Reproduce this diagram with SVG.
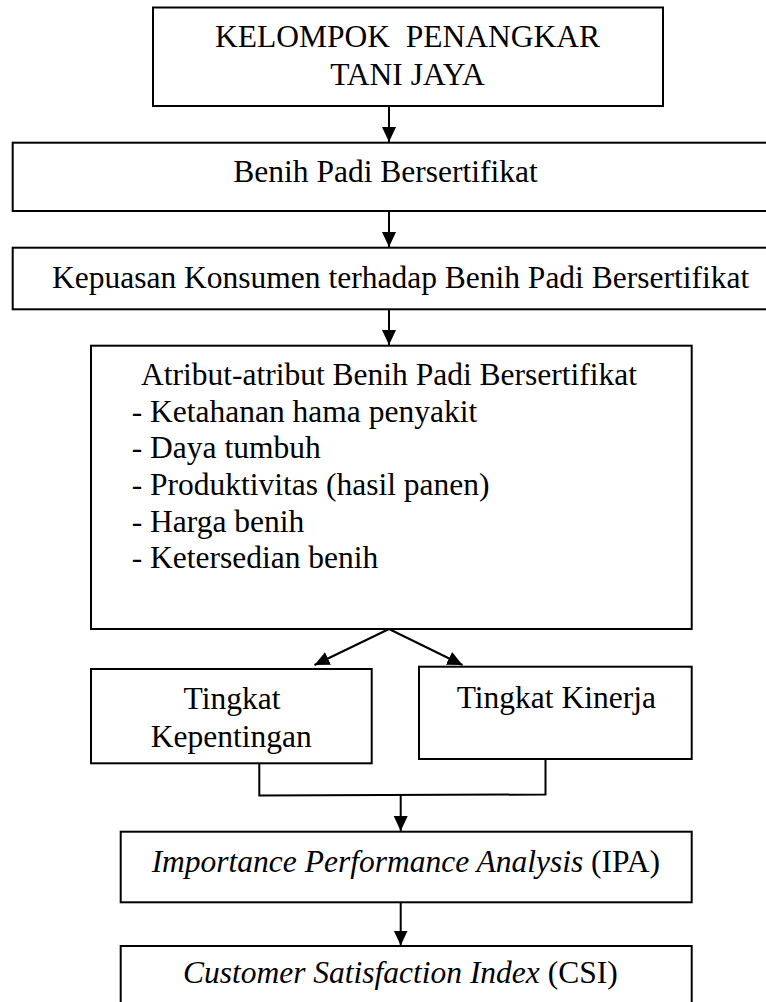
<svg xmlns="http://www.w3.org/2000/svg" width="766" height="1002" viewBox="0 0 766 1002">
<style>
.box{fill:#fff;stroke:#000;stroke-width:2}
.t{font-family:"Liberation Serif","Times New Roman",serif;font-size:31.5px;fill:#000}
.c{text-anchor:middle}
.con{fill:none;stroke:#000;stroke-width:2}
</style>
<defs>
<marker id="ah" markerUnits="userSpaceOnUse" markerWidth="16" markerHeight="16" refX="15" refY="7" orient="auto">
<path d="M0,0 L15,7 L0,14 z" fill="#000"/>
</marker>
</defs>
<rect width="766" height="1002" fill="#fff"/>
<g id="connectors">
<line class="con" x1="389" y1="106" x2="389" y2="142" marker-end="url(#ah)"/>
<line class="con" x1="389" y1="211" x2="389" y2="247" marker-end="url(#ah)"/>
<line class="con" x1="389" y1="309" x2="389" y2="345" marker-end="url(#ah)"/>
<line class="con" x1="389" y1="629" x2="314.5" y2="665" marker-end="url(#ah)"/>
<line class="con" x1="389" y1="629" x2="462.5" y2="665" marker-end="url(#ah)"/>
<polyline class="con" points="259.3,763 259.3,795.5 545.5,794.5 545.5,759"/>
<line class="con" x1="400.7" y1="795" x2="400.7" y2="831" marker-end="url(#ah)"/>
<line class="con" x1="400.7" y1="902" x2="400.7" y2="945.5" marker-end="url(#ah)"/>
</g>
<g id="n1">
<rect class="box" x="153" y="7.5" width="510" height="98.5"/>
<text class="t c" x="407.5" y="46.7" style="white-space:pre">KELOMPOK  PENANGKAR</text>
<text class="t c" x="407.5" y="85">TANI JAYA</text>
</g>
<g id="n2">
<rect class="box" x="12.7" y="142.7" width="760" height="68.3"/>
<text class="t c" x="385.5" y="181.7">Benih Padi Bersertifikat</text>
</g>
<g id="n3">
<rect class="box" x="12.7" y="247.7" width="760" height="61.6"/>
<text class="t c" x="400.6" y="288">Kepuasan Konsumen terhadap Benih Padi Bersertifikat</text>
</g>
<g id="n4">
<rect class="box" x="91" y="345.7" width="600.7" height="283.3"/>
<text class="t" x="141" y="385">Atribut-atribut Benih Padi Bersertifikat</text>
<text class="t" x="131.7" y="421.7">- Ketahanan hama penyakit</text>
<text class="t" x="131.7" y="458.3">- Daya tumbuh</text>
<text class="t" x="131.7" y="495">- Produktivitas (hasil panen)</text>
<text class="t" x="131.7" y="531.7">- Harga benih</text>
<text class="t" x="131.7" y="568.3">- Ketersedian benih</text>
</g>
<g id="n5">
<rect class="box" x="91" y="669" width="280.7" height="94.3"/>
<text class="t c" x="232" y="709.3">Tingkat</text>
<text class="t c" x="231.3" y="746.7">Kepentingan</text>
</g>
<g id="n6">
<rect class="box" x="419" y="666.7" width="272.7" height="92.3"/>
<text class="t c" x="556.3" y="708.3">Tingkat Kinerja</text>
</g>
<g id="n7">
<rect class="box" x="120.7" y="831.7" width="571" height="70.6"/>
<text class="t c" x="405.8" y="871.7"><tspan font-style="italic">Importance Performance Analysis</tspan> (IPA)</text>
</g>
<g id="n8">
<rect class="box" x="120.7" y="946" width="571" height="70"/>
<text class="t c" x="400.3" y="983.3"><tspan font-style="italic">Customer Satisfaction Index</tspan> (CSI)</text>
</g>
</svg>
